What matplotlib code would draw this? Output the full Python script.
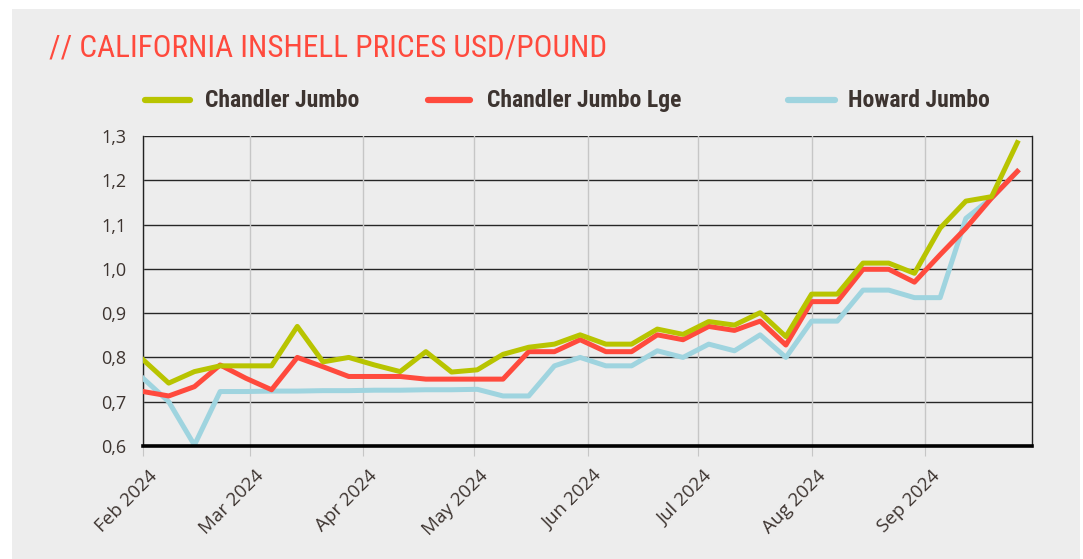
import matplotlib
matplotlib.use('Agg')
import matplotlib.pyplot as plt
import matplotlib.dates as mdates
import matplotlib.transforms as mtransforms
from matplotlib.lines import Line2D
from matplotlib.patches import Rectangle
import numpy as np
import pandas as pd

# weekly prices, USD/pound
dates = pd.date_range('2024-02-01', periods=35, freq='7D')

chandler_jumbo = [0.795, 0.742, 0.768, 0.781, 0.781, 0.781, 0.870, 0.790, 0.800,
                  0.783, 0.768, 0.813, 0.767, 0.772, 0.807, 0.823, 0.830, 0.851,
                  0.830, 0.830, 0.864, 0.852, 0.881, 0.873, 0.901, 0.847, 0.943,
                  0.943, 1.013, 1.013, 0.990, 1.092, 1.153, 1.163, 1.285]

chandler_jumbo_lge = [0.723, 0.713, 0.734, 0.783, 0.753, 0.727, 0.800, 0.779, 0.757,
                      0.757, 0.757, 0.751, 0.751, 0.751, 0.751, 0.813, 0.813, 0.840,
                      0.813, 0.813, 0.851, 0.840, 0.870, 0.861, 0.882, 0.828, 0.926,
                      0.926, 0.999, 0.999, 0.970, 1.032, 1.092, 1.160, 1.220]

howard_jumbo = [0.753, 0.700, 0.602, 0.723, 0.723, 0.724, 0.724, 0.725, 0.725,
                0.726, 0.726, 0.727, 0.727, 0.728, 0.713, 0.713, 0.781, 0.800,
                0.781, 0.781, 0.815, 0.800, 0.830, 0.815, 0.851, 0.800, 0.882,
                0.882, 0.952, 0.952, 0.935, 0.935, 1.114, 1.160, 1.220]

series_names = ['Chandler Jumbo', 'Chandler Jumbo Lge', 'Howard Jumbo']
series_colors = ['#b8c400', '#ff4a3d', '#9fd4df']
yticks = [0.6, 0.7, 0.8, 0.9, 1.0, 1.1, 1.2, 1.3]

plt.rcParams['font.family'] = ['Open Sans', 'DejaVu Sans']
cond = ['Roboto Condensed', 'Roboto', 'DejaVu Sans']
txt = '#3d3430'
bg = '#ededed'

fig = plt.figure(figsize=(10.83, 5.59), dpi=100)
fig.patch.set_facecolor('white')
fig.add_artist(Rectangle((12/1083, 0), 1068/1083, 550/559, transform=fig.transFigure,
                         facecolor=bg, edgecolor='none', zorder=-10))

ax = fig.add_axes([143/1083, 113/559, 889/1083, 310/559])
ax.set_facecolor(bg)

# draw order: blue bottom, red, green on top
ax.plot(dates, howard_jumbo, color=series_colors[2], lw=3.6, zorder=3)
ax.plot(dates, chandler_jumbo_lge, color=series_colors[1], lw=3.6, zorder=4)
ax.plot(dates, chandler_jumbo, color=series_colors[0], lw=3.6, zorder=5)

ax.set_ylim(0.6, 1.3)
ax.set_xlim(pd.Timestamp('2024-02-01'), pd.Timestamp('2024-09-30'))
ax.set_yticks(yticks)
ax.set_yticklabels([f'{v:.1f}'.replace('.', ',') for v in yticks])
for v in yticks[1:]:
    ax.axhline(v, color='#262626', lw=1.0, zorder=1)
ax.axhline(0.6, color='black', lw=2.6, zorder=6, clip_on=False)

ax.xaxis.set_major_locator(mdates.MonthLocator())
ax.xaxis.set_major_formatter(mdates.DateFormatter('%b %Y'))
ax.grid(axis='x', color='#c6c6c6', lw=1.0, zorder=0)

for s in ['left', 'right']:
    ax.spines[s].set_color('#222222')
    ax.spines[s].set_linewidth(1.0)
ax.spines['top'].set_visible(False)
ax.spines['bottom'].set_visible(False)

ax.tick_params(axis='y', length=0, pad=12, labelsize=13, labelcolor=txt)
ax.tick_params(axis='x', length=7, color='#c6c6c6', pad=8, labelsize=13.5, labelcolor=txt)
shift = mtransforms.ScaledTranslation(5/100, 0, fig.dpi_scale_trans)
for lab in ax.get_xticklabels():
    lab.set_rotation(45)
    lab.set_ha('right')
    lab.set_va('top')
    lab.set_rotation_mode('anchor')
    lab.set_transform(lab.get_transform() + shift)

fig.text(49/1083, 1 - 48/559, '// CALIFORNIA INSHELL PRICES USD/POUND', color='#ff4a3d',
         fontsize=22.5, va='center', ha='left', family=cond)

# legend
leg_y = 1 - 100/559
handle_x = [(145, 190), (428, 470), (788, 835)]
text_x = [205, 487, 848]
for (x0, x1), tx, name, c in zip(handle_x, text_x, series_names, series_colors):
    fig.add_artist(Line2D([x0/1083, x1/1083], [leg_y, leg_y], transform=fig.transFigure,
                          color=c, lw=4.5, solid_capstyle='round'))
    fig.text(tx/1083, leg_y, name, color=txt, fontsize=17, fontweight='bold',
             va='center', ha='left', family=cond)

fig.savefig('out.png', dpi=100)
